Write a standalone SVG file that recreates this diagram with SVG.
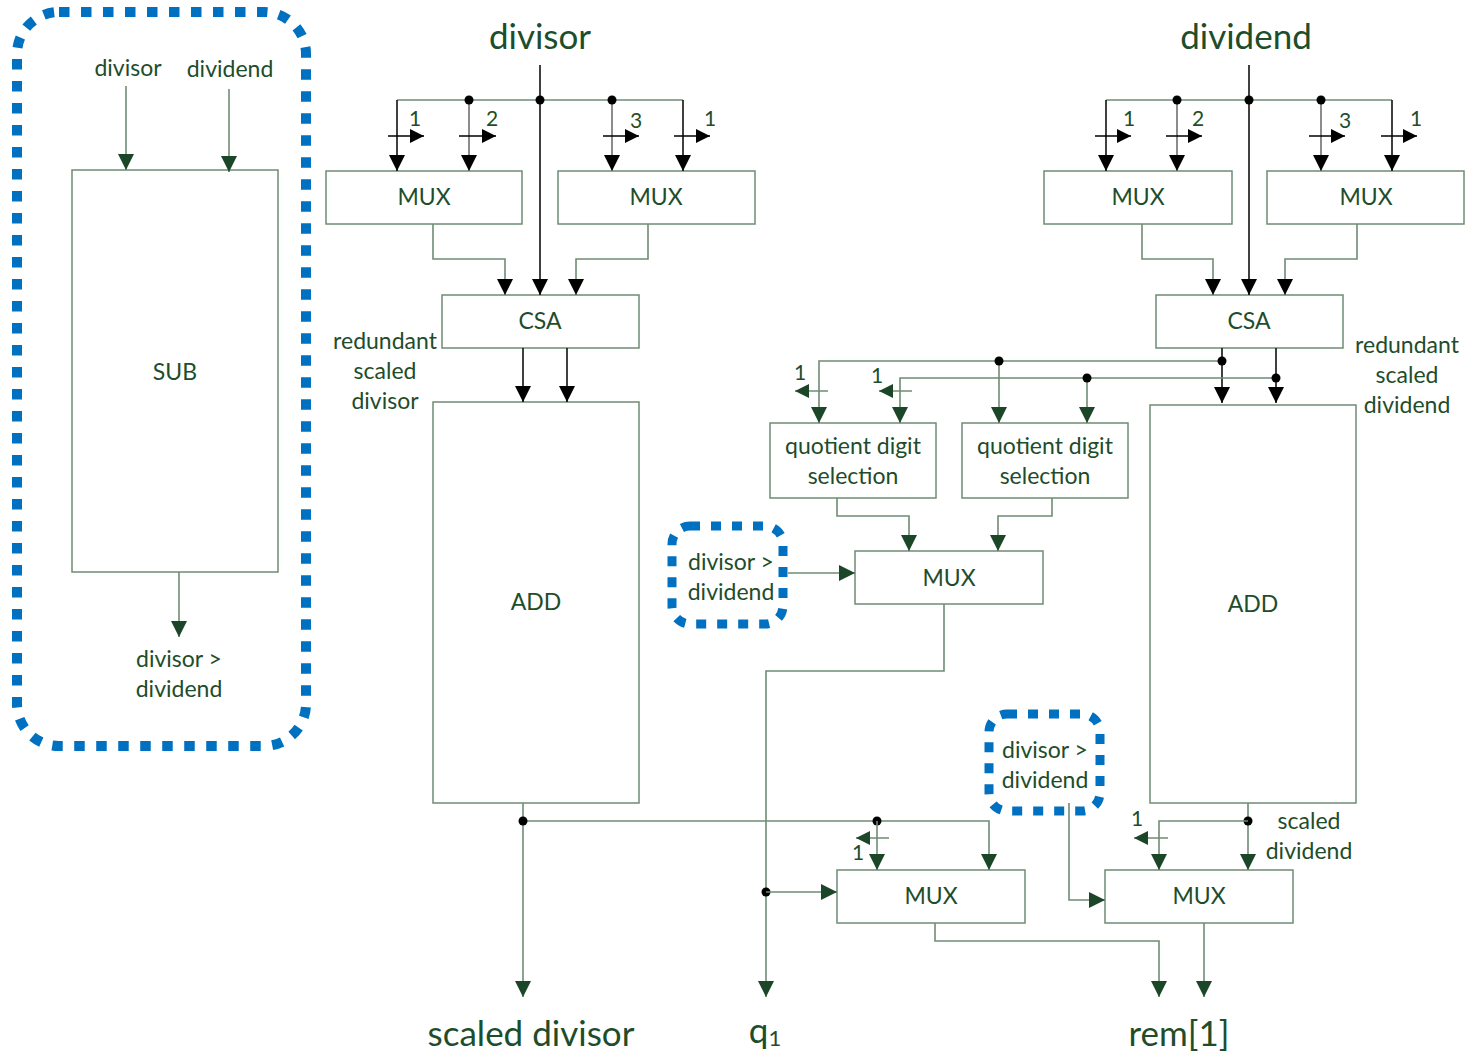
<svg xmlns="http://www.w3.org/2000/svg" width="1466" height="1051" viewBox="0 0 1466 1051">
<defs>
<marker id="ag" markerUnits="userSpaceOnUse" markerWidth="17" markerHeight="17" refX="16" refY="8" orient="auto"><path d="M0,0 L16,8 L0,16 z" fill="#1b4628"/></marker>
<marker id="ab" markerUnits="userSpaceOnUse" markerWidth="17" markerHeight="17" refX="16" refY="8" orient="auto"><path d="M0,0 L16,8 L0,16 z" fill="#000"/></marker>
<marker id="sb" markerUnits="userSpaceOnUse" markerWidth="16" markerHeight="16" refX="14" refY="7" orient="auto"><path d="M0,0 L14,7 L0,14 z" fill="#000"/></marker>
<marker id="sg" markerUnits="userSpaceOnUse" markerWidth="16" markerHeight="16" refX="14" refY="7" orient="auto"><path d="M0,0 L14,7 L0,14 z" fill="#1b4628"/></marker>
</defs>
<style>
text{font-family:Lato,"Liberation Sans",sans-serif;fill:#1e4d2b;text-anchor:middle;dominant-baseline:central}
.t22{font-size:23px}
.t19{font-size:21px}
.t32{font-size:35px}
.box{fill:#fff;stroke:#6e8c74;stroke-width:1.5}
.ln{fill:none;stroke:#6e8c74;stroke-width:1.6}
.lk{fill:none;stroke:#111;stroke-width:1.6}
.lgr{fill:none;stroke:#808080;stroke-width:1.8}
.sh{fill:none;stroke:#000;stroke-width:1.3}
.shg{fill:none;stroke:#6e8c74;stroke-width:1.3}
.dot{fill:#000}
.dash{fill:none;stroke:#0070c0;stroke-width:10;stroke-dasharray:10.5 11.5}
.dash2{fill:none;stroke:#0070c0;stroke-width:9;stroke-dasharray:10 11}
</style>

<g id="left-panel">
<rect class="dash" x="17" y="12" width="289" height="734" rx="42"/>
<text class="t22" x="128" y="67">divisor</text>
<text class="t22" x="230" y="68">dividend</text>
<rect class="box" x="72" y="170" width="206" height="402"/>
<text class="t22" x="175" y="371">SUB</text>
<path class="ln" d="M126 86 V170" marker-end="url(#ag)"/>
<path class="ln" d="M229 89 V172" marker-end="url(#ag)"/>
<path class="ln" d="M179 572 V637" marker-end="url(#ag)"/>
<text class="t22" x="179" y="658">divisor &gt;</text>
<text class="t22" x="179" y="688">dividend</text>
</g>

<g id="divisor-label"><text class="t32" x="540" y="35">divisor</text></g>
<g id="dividend-label"><text class="t32" x="1246" y="35">dividend</text></g>

<g id="mux1"><rect class="box" x="326" y="171" width="196" height="53"/><text class="t22" x="424" y="196">MUX</text></g>
<g id="mux2"><rect class="box" x="558" y="171" width="197" height="53"/><text class="t22" x="656" y="196">MUX</text></g>
<g id="csa1"><rect class="box" x="442" y="295" width="197" height="53"/><text class="t22" x="540" y="320">CSA</text></g>
<g id="add1"><rect class="box" x="433" y="402" width="206" height="401"/><text class="t22" x="536" y="601">ADD</text></g>
<g id="rsd-label"><text class="t22" x="385" y="340">redundant</text><text class="t22" x="385" y="370">scaled</text><text class="t22" x="385" y="400">divisor</text></g>

<g id="mux3"><rect class="box" x="1044" y="171" width="188" height="53"/><text class="t22" x="1138" y="196">MUX</text></g>
<g id="mux4"><rect class="box" x="1267" y="171" width="197" height="53"/><text class="t22" x="1366" y="196">MUX</text></g>
<g id="csa2"><rect class="box" x="1156" y="295" width="187" height="53"/><text class="t22" x="1249" y="320">CSA</text></g>
<g id="add2"><rect class="box" x="1150" y="405" width="206" height="398"/><text class="t22" x="1253" y="603">ADD</text></g>
<g id="rsdd-label"><text class="t22" x="1407" y="344">redundant</text><text class="t22" x="1407" y="374">scaled</text><text class="t22" x="1407" y="404">dividend</text></g>

<g id="qds1"><rect class="box" x="770" y="423" width="166" height="75"/><text class="t22" x="853" y="445">quotient digit</text><text class="t22" x="853" y="475">selection</text></g>
<g id="qds2"><rect class="box" x="962" y="423" width="166" height="75"/><text class="t22" x="1045" y="445">quotient digit</text><text class="t22" x="1045" y="475">selection</text></g>
<g id="mux5"><rect class="box" x="855" y="551" width="188" height="53"/><text class="t22" x="949" y="577">MUX</text></g>
<g id="cmp1"><rect class="dash2" x="672" y="526" width="111" height="98" rx="18"/><text class="t22" x="731" y="561">divisor &gt;</text><text class="t22" x="731" y="591">dividend</text></g>
<g id="cmp2"><rect class="dash2" x="989" y="714" width="111" height="97" rx="18"/><text class="t22" x="1045" y="749">divisor &gt;</text><text class="t22" x="1045" y="779">dividend</text></g>
<g id="mux6"><rect class="box" x="837" y="870" width="188" height="53"/><text class="t22" x="931" y="895">MUX</text></g>
<g id="mux7"><rect class="box" x="1105" y="870" width="188" height="53"/><text class="t22" x="1199" y="895">MUX</text></g>
<g id="sd-label"><text class="t22" x="1309" y="820">scaled</text><text class="t22" x="1309" y="850">dividend</text></g>

<g id="outputs">
<text class="t32" x="531" y="1032">scaled divisor</text>
<text class="t32" x="765" y="1029">q<tspan font-size="22" dy="8">1</tspan></text>
<text class="t32" x="1179" y="1032">rem[1]</text>
</g>

<g id="connectors">
<path class="lk" d="M540 65 V295" marker-end="url(#ab)"/>
<path class="ln" d="M397 100 H683"/>
<path class="lk" d="M397 100 V171" marker-end="url(#ab)"/>
<path class="lgr" d="M469 100 V171" marker-end="url(#ab)"/>
<path class="lgr" d="M612 100 V171" marker-end="url(#ab)"/>
<path class="lk" d="M683 100 V171" marker-end="url(#ab)"/>
<circle class="dot" cx="469" cy="100" r="4.5"/><circle class="dot" cx="540" cy="100" r="4.5"/><circle class="dot" cx="612" cy="100" r="4.5"/>
<path class="sh" d="M388 136 H424" marker-end="url(#sb)"/>
<path class="sh" d="M459 136 H496" marker-end="url(#sb)"/>
<path class="sh" d="M603 136 H639" marker-end="url(#sb)"/>
<path class="sh" d="M674 136 H710" marker-end="url(#sb)"/>
<text class="t19" x="415" y="117">1</text><text class="t19" x="492" y="117">2</text><text class="t19" x="636" y="119">3</text><text class="t19" x="710" y="117">1</text>
<path class="ln" d="M433 224 V259 H505 V295" marker-end="url(#ab)"/>
<path class="ln" d="M648 224 V259 H576 V295" marker-end="url(#ab)"/>
<path class="lk" d="M523 348 V402" marker-end="url(#ab)"/>
<path class="lk" d="M567 348 V402" marker-end="url(#ab)"/>
<path class="lk" d="M1249 65 V295" marker-end="url(#ab)"/>
<path class="ln" d="M1106 100 H1392"/>
<path class="lk" d="M1106 100 V171" marker-end="url(#ab)"/>
<path class="lgr" d="M1177 100 V171" marker-end="url(#ab)"/>
<path class="lgr" d="M1321 100 V171" marker-end="url(#ab)"/>
<path class="lk" d="M1392 100 V171" marker-end="url(#ab)"/>
<circle class="dot" cx="1177" cy="100" r="4.5"/><circle class="dot" cx="1249" cy="100" r="4.5"/><circle class="dot" cx="1321" cy="100" r="4.5"/>
<path class="sh" d="M1095 136 H1131" marker-end="url(#sb)"/>
<path class="sh" d="M1166 136 H1202" marker-end="url(#sb)"/>
<path class="sh" d="M1309 136 H1345" marker-end="url(#sb)"/>
<path class="sh" d="M1381 136 H1417" marker-end="url(#sb)"/>
<text class="t19" x="1129" y="117">1</text><text class="t19" x="1198" y="117">2</text><text class="t19" x="1345" y="119">3</text><text class="t19" x="1416" y="117">1</text>
<path class="ln" d="M1142 224 V259 H1213 V295" marker-end="url(#ab)"/>
<path class="ln" d="M1357 224 V259 H1285 V295" marker-end="url(#ab)"/>
<path class="lk" d="M1222 348 V403" marker-end="url(#ab)"/>
<path class="lk" d="M1276 348 V403" marker-end="url(#ab)"/>
<path class="ln" d="M1222 361 H819 V423" marker-end="url(#ag)"/>
<path class="ln" d="M999 361 V423" marker-end="url(#ag)"/>
<path class="ln" d="M1276 378 H900 V423" marker-end="url(#ag)"/>
<path class="ln" d="M1087 378 V423" marker-end="url(#ag)"/>
<circle class="dot" cx="999" cy="361" r="4.5"/><circle class="dot" cx="1222" cy="361" r="4.5"/>
<circle class="dot" cx="1087" cy="378" r="4.5"/><circle class="dot" cx="1276" cy="378" r="4.5"/>
<path class="shg" d="M828 391 H795" marker-end="url(#sg)"/>
<path class="shg" d="M912 391 H879" marker-end="url(#sg)"/>
<text class="t19" x="800" y="371">1</text><text class="t19" x="877" y="374">1</text>
<path class="ln" d="M837 498 V516 H909 V551" marker-end="url(#ag)"/>
<path class="ln" d="M1052 498 V516 H998 V551" marker-end="url(#ag)"/>
<path class="ln" d="M788 573 H855" marker-end="url(#ag)"/>
<path class="ln" d="M944 604 V671 H766 V997" marker-end="url(#ag)"/>
<circle class="dot" cx="766" cy="892" r="4.5"/>
<path class="ln" d="M766 892 H837" marker-end="url(#ag)"/>
<path class="ln" d="M523 803 V997" marker-end="url(#ag)"/>
<path class="ln" d="M523 821 H989 V870" marker-end="url(#ag)"/>
<circle class="dot" cx="523" cy="821" r="4.5"/><circle class="dot" cx="877" cy="821" r="4.5"/>
<path class="ln" d="M877 821 V870" marker-end="url(#ag)"/>
<path class="shg" d="M889 838 H856" marker-end="url(#sg)"/>
<text class="t19" x="858" y="851">1</text>
<path class="ln" d="M935 923 V941 H1159 V997" marker-end="url(#ag)"/>
<path class="ln" d="M1069 803 V900 H1105" marker-end="url(#ag)"/>
<path class="ln" d="M1248 803 V870" marker-end="url(#ag)"/>
<circle class="dot" cx="1248" cy="821" r="4.5"/>
<path class="ln" d="M1248 821 H1159 V870" marker-end="url(#ag)"/>
<path class="shg" d="M1168 838 H1134" marker-end="url(#sg)"/>
<text class="t19" x="1137" y="817">1</text>
<path class="ln" d="M1204 923 V997" marker-end="url(#ag)"/>
</g>
</svg>
